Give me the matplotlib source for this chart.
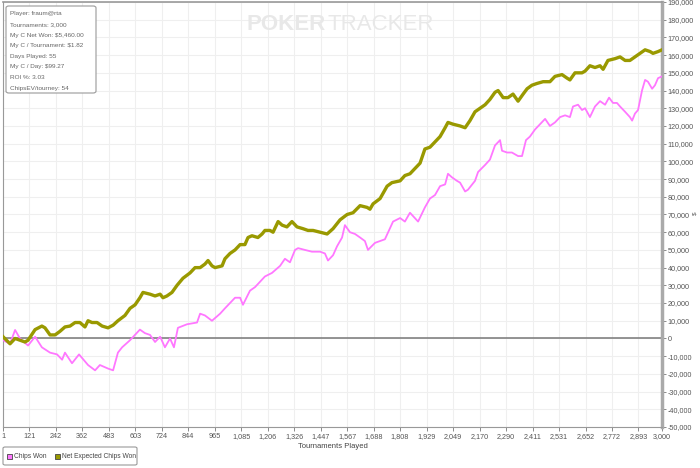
import matplotlib
matplotlib.use("Agg")
import matplotlib.pyplot as plt
from matplotlib.ticker import FuncFormatter, FixedLocator, MultipleLocator
from matplotlib.patches import FancyBboxPatch, Rectangle

plt.rcParams["font.family"] = ["Liberation Sans", "DejaVu Sans"]

chips_t = [1, 33, 56, 78, 115, 147, 178, 215, 247, 270, 283, 315, 347, 388, 420, 442, 479, 502, 524, 543,
           579, 624, 647, 670, 693, 716, 738, 761, 779, 797, 838, 884, 898, 920, 952, 989, 1011, 1034, 1057, 1080,
           1093, 1125, 1148, 1193, 1225, 1262, 1284, 1307, 1330, 1344, 1375, 1407, 1444, 1466, 1480, 1503, 1521,
           1544, 1557, 1580, 1603, 1626, 1648, 1662, 1694, 1739, 1776, 1808, 1830, 1853, 1890, 1921, 1944, 1967,
           1990, 2013, 2026, 2044, 2067, 2081, 2104, 2117, 2149, 2163, 2195, 2217, 2240, 2263, 2272, 2295, 2317,
           2345, 2363, 2381, 2399, 2422, 2445, 2468, 2490, 2513, 2536, 2559, 2581, 2595, 2618, 2636, 2650, 2672,
           2695, 2718, 2741, 2759, 2777, 2795, 2809, 2832, 2854, 2864, 2877, 2891, 2909, 2923, 2936, 2955, 2968,
           2982, 3000]
chips_won = [-1, -3, 4.8, 0, -4, 1, -5, -8, -9, -12, -8, -14, -9, -15, -18, -15, -17, -18, -8, -5,
             -1, 5, 3, 2, -2, 1, -5, 0, -5, 6, 8, 9, 14, 13, 10, 14, 17, 20, 23, 23,
             19, 27, 29, 35, 37, 41, 45, 43, 50, 51, 50, 49, 49, 48, 44, 47, 52,
             57, 64, 60, 59, 57, 55, 50, 54, 56, 66, 68, 66, 71, 66, 74, 79, 81,
             86, 87, 93, 91, 89, 88, 83, 84, 89, 94, 98, 101, 109, 112, 106, 105, 105,
             103, 103, 112, 114, 118, 121, 124, 120, 122, 125, 126, 125, 131, 132, 129, 130, 125,
             131, 134, 132, 136, 133, 133, 131, 128, 125, 123, 127, 129, 140, 146, 145, 141, 143,
             147, 148]

ev_t = [1, 33, 56, 78, 101, 115, 147, 178, 192, 215, 238, 260, 283, 306, 329, 351, 374, 388, 406, 429,
        452, 479, 502, 524, 556, 579, 602, 624, 638, 670, 693, 716, 729, 747, 770, 793, 820, 852, 875, 898,
        920, 934, 952, 966, 998, 1011, 1034, 1057, 1080, 1102, 1116, 1134, 1161, 1180, 1193, 1216, 1230, 1253,
        1271, 1293, 1316, 1339, 1366, 1389, 1412, 1444, 1476, 1503, 1535, 1567, 1594, 1626, 1658, 1671, 1685,
        1717, 1749, 1771, 1808, 1830, 1853, 1876, 1899, 1921, 1944, 1967, 1990, 2013, 2026, 2049, 2081, 2104,
        2126, 2149, 2172, 2195, 2217, 2240, 2254, 2277, 2299, 2322, 2345, 2368, 2386, 2408, 2431, 2459, 2490,
        2513, 2545, 2568, 2581, 2604, 2636, 2650, 2672, 2695, 2718, 2732, 2754, 2786, 2809, 2832, 2854, 2877,
        2900, 2923, 2946, 2959, 2982, 3000]
net_expected = [1, -3, 0, -1, -2, -1, 5, 7, 6, 2, 2, 4, 6.5, 7, 9, 9, 6.5, 10, 9, 9,
                7, 6, 7.5, 10, 13, 17, 19, 23, 26, 25, 24, 25, 23, 24, 26, 30, 34, 37, 40, 40,
                42, 44, 41, 40, 41, 45, 48, 50, 53, 53, 57, 58, 57, 59, 61, 61, 60, 66,
                64, 63, 66, 63, 62, 61, 61, 60, 59, 62, 67, 70, 71, 75, 74, 73, 76,
                79, 86, 88, 89, 92, 93, 96, 99, 107, 108, 111, 114, 119, 122, 121, 120, 119,
                123, 128, 130, 132, 135, 139, 140, 136, 136, 138, 134, 138, 141, 143, 144, 145, 145,
                148, 149, 147, 146, 150, 150, 151, 154, 153, 154, 152, 157, 158, 159, 157, 157, 159,
                161, 163, 162, 161, 162, 163]

x_ticks = [1, 121, 242, 362, 483, 603, 724, 844, 965, 1085, 1206, 1326, 1447, 1567, 1688, 1808, 1929,
           2049, 2170, 2290, 2411, 2531, 2652, 2772, 2893, 3000]
stats_lines = ["Player: fraum@rta", "Tournaments: 3,000", "My C Net Won: $5,460.00",
               "My C / Tournament: $1.82", "Days Played: 55", "My C / Day: $99.27",
               "ROI %: 3.03", "ChipsEV/tourney: 54"]

W, H = 700, 468
fig = plt.figure(figsize=(7, 4.68), dpi=100)
ax = fig.add_axes([3 / W, 1 - 427 / H, 659 / W, 425 / H])
ax.set_xlim(1, 3000)
ax.set_ylim(-50000, 190000)

ax.plot(chips_t, [v * 1000 for v in chips_won], color="#ff77ff", lw=1.3, zorder=3)
ax.plot(ev_t, [v * 1000 for v in net_expected], color="#999900", lw=2.4, zorder=3)
ax.axhline(0, color="#777777", lw=1.1, zorder=2)

ax.xaxis.set_major_locator(FixedLocator(x_ticks))
ax.xaxis.set_major_formatter(FuncFormatter(lambda v, p: f"{int(round(v)):,}"))
ax.yaxis.set_major_locator(MultipleLocator(10000))
ax.yaxis.set_major_formatter(FuncFormatter(lambda v, p: f"{int(round(v)):,}"))
ax.yaxis.tick_right()
ax.grid(True, color="#efefef", lw=0.8, zorder=0)
ax.tick_params(axis="both", labelsize=5.2, colors="#777777", length=3, width=0.6, pad=1.5)
ax.tick_params(axis="y", labelcolor="#555555", pad=1)
ax.tick_params(axis="x", labelcolor="#555555")
for s in ["left", "bottom", "top"]:
    ax.spines[s].set_color("#999999")
    ax.spines[s].set_linewidth(0.8)
ax.spines["top"].set_linewidth(1.2)
ax.spines["right"].set_color("#aaaaaa")
ax.spines["right"].set_linewidth(2.5)

ax.set_xlabel("Tournaments Played", fontsize=5.5, color="#444444", labelpad=2)
fig.text(695 / W, 1 - 213 / H, "$", fontsize=4.5, color="#555555", rotation=90, ha="center", va="center")

# watermark
wm_family = ["Liberation Sans Narrow", "Liberation Sans", "DejaVu Sans"]
fig.text(326 / W, 1 - 24 / H, "POKER", fontsize=16, fontweight="bold", color="#e8e8e8",
         ha="right", va="center", family=wm_family)
fig.text(327 / W, 1 - 24 / H, "TRACKER", fontsize=16, color="#e8e8e8", ha="left", va="center",
         family=wm_family)

# stats box
box = FancyBboxPatch((6 / W, 1 - 93 / H), 90 / W, 87 / H, boxstyle="round,pad=0,rounding_size=0.004",
                     transform=fig.transFigure, facecolor="white", edgecolor="#999999", lw=0.8, zorder=5)
fig.patches.append(box)
for i, line in enumerate(stats_lines):
    fig.text(10 / W, 1 - (14 + i * 10.6) / H, line, fontsize=4.6, color="#666666", va="center", zorder=6)

# legend
lbox = FancyBboxPatch((3 / W, 1 - 465 / H), 134 / W, 18 / H, boxstyle="round,pad=0,rounding_size=0.003",
                      transform=fig.transFigure, facecolor="white", edgecolor="#999999", lw=0.8)
fig.patches.append(lbox)
for x0, col, lab in [(7, "#ff77ff", "Chips Won"), (55, "#999900", "Net Expected Chips Won")]:
    fig.patches.append(Rectangle((x0 / W, 1 - 459 / H), 5 / W, 5 / H, transform=fig.transFigure,
                                 facecolor=col, edgecolor="#444444", lw=0.6))
    fig.text((x0 + 7) / W, 1 - 456.5 / H, lab, fontsize=4.8, color="#444444", va="center")

fig.savefig("out.png", dpi=100)
